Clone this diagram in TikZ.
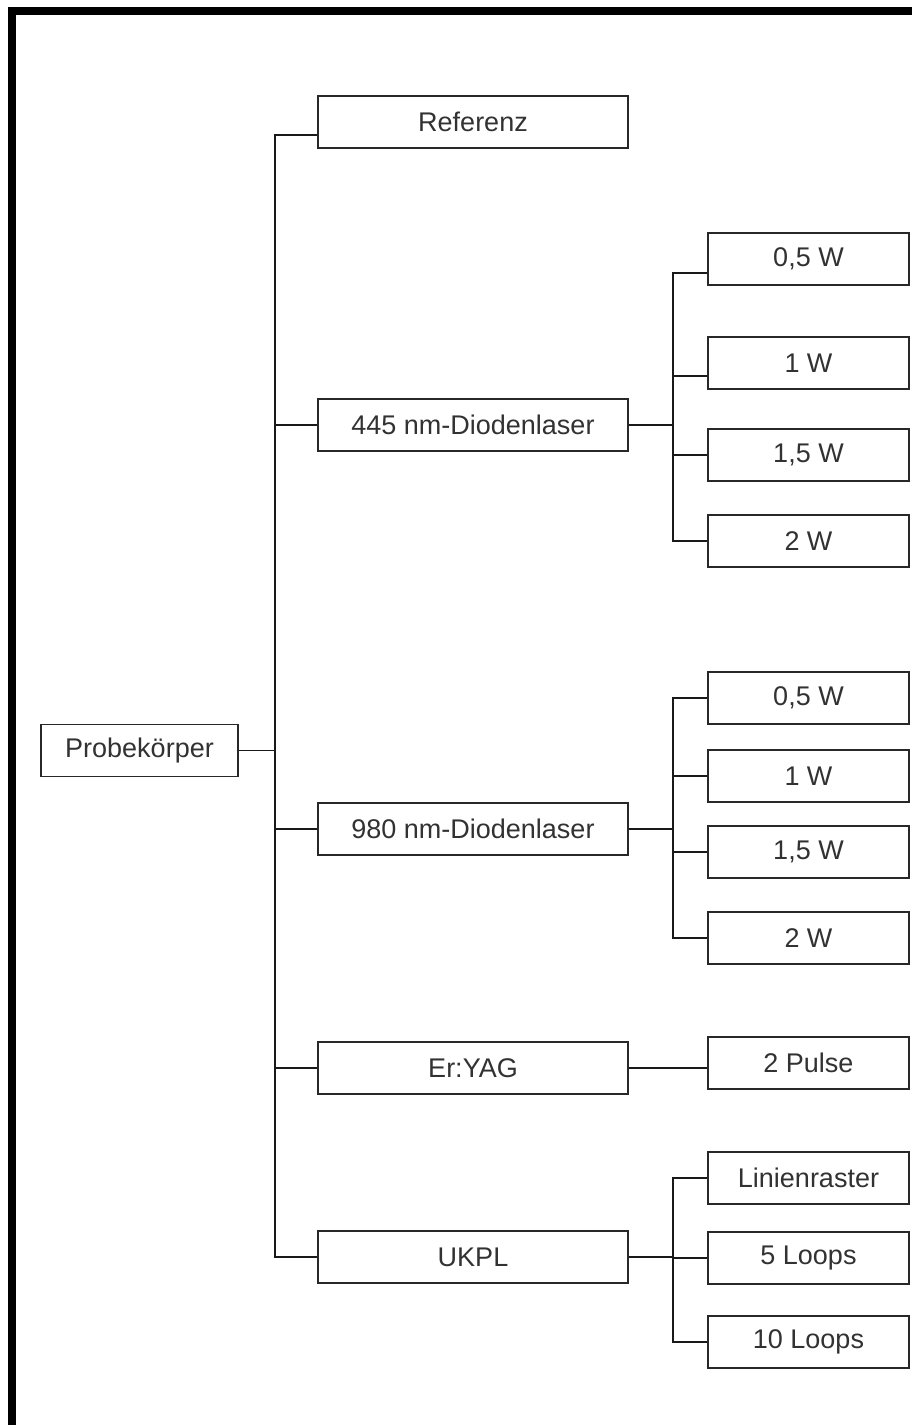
\documentclass[tikz,border=0pt]{standalone}
\usepackage{fontspec}
\setmainfont{Liberation Sans}
\usetikzlibrary{calc}
\definecolor{boxGray}{RGB}{40,40,40}
\definecolor{textGray}{RGB}{50,50,50}

\begin{document}
\begin{tikzpicture}[
    x=1pt, y=-1pt,
    box/.style={rectangle, draw=boxGray, fill=white, line width=1.8pt,
      minimum height=52pt, inner sep=0pt, align=center, text=textGray,
      font=\fontsize{27}{30}\selectfont},
    rootbox/.style={box, minimum width=197pt},
    midbox/.style={box, minimum width=310pt},
    leafbox/.style={box, minimum width=201pt},
    link/.style={line width=1.6pt, black!90}
  ]
    \useasboundingbox (0,0) rectangle (912,1425);
    % frame (cut on the right and at the bottom)
    \draw[line width=8pt] (12,1425) -- (12,11) -- (912,11);

    \coordinate (trunkA) at (275,0);
    \coordinate (trunkB) at (673,0);

    \node[rootbox] (probe) at (139.5,750.5) {Probekörper};

    \node[midbox] (ref) at (473,122) {Referenz};
    \node[midbox] (dl445) at (473,425) {445 nm-Diodenlaser};
    \node[midbox] (dl980) at (473,829) {980 nm-Diodenlaser};
    \node[midbox] (eryag) at (473,1068) {Er:YAG};
    \node[midbox] (ukpl) at (473,1257) {UKPL};

    % 445 nm
    \node[leafbox] (a1) at (808.5,259) {0,5 W};
    \node[leafbox] (a2) at (808.5,363) {1 W};
    \node[leafbox] (a3) at (808.5,455) {1,5 W};
    \node[leafbox] (a4) at (808.5,541) {2 W};
    % 980 nm
    \node[leafbox] (b1) at (808.5,698) {0,5 W};
    \node[leafbox] (b2) at (808.5,776) {1 W};
    \node[leafbox] (b3) at (808.5,852) {1,5 W};
    \node[leafbox] (b4) at (808.5,938) {2 W};
    % Er:YAG
    \node[leafbox] (pulse) at (808.5,1063) {2 Pulse};
    % UKPL
    \node[leafbox] (c1) at (808.5,1178) {Linienraster};
    \node[leafbox] (c2) at (808.5,1258) {5 Loops};
    \node[leafbox] (c3) at (808.5,1342) {10 Loops};

    % main tree
    \draw[link] (probe) -- (probe -| trunkA);
    \draw[link] ([yshift=-13pt]ref.west) -| (ukpl.west -| trunkA) -- (ukpl.west);
    \foreach \n in {dl445, dl980, eryag}
      \draw[link] (\n.west) -- (\n.west -| trunkA);

    % 445 nm branch
    \draw[link] (dl445) -- (dl445 -| trunkB);
    \draw[link] ([yshift=-14pt]a1.west) -| (a4.west -| trunkB) -- (a4.west);
    \draw[link] ([yshift=-13pt]a2.west) -- ([yshift=-13pt]a2.west -| trunkB);
    \draw[link] (a3.west) -- (a3.west -| trunkB);

    % 980 nm branch
    \draw[link] (dl980) -- (dl980 -| trunkB);
    \draw[link] (b1.west) -| (b4.west -| trunkB) -- (b4.west);
    \foreach \n in {b2, b3}
      \draw[link] (\n.west) -- (\n.west -| trunkB);

    % Er:YAG branch
    \draw[link] (eryag.east) -- (eryag.east -| pulse.west);

    % UKPL branch
    \draw[link] (ukpl) -- (ukpl -| trunkB);
    \draw[link] (c1.west) -| (c3.west -| trunkB) -- (c3.west);
    \draw[link] (c2.west) -- (c2.west -| trunkB);
\end{tikzpicture}
\end{document}
